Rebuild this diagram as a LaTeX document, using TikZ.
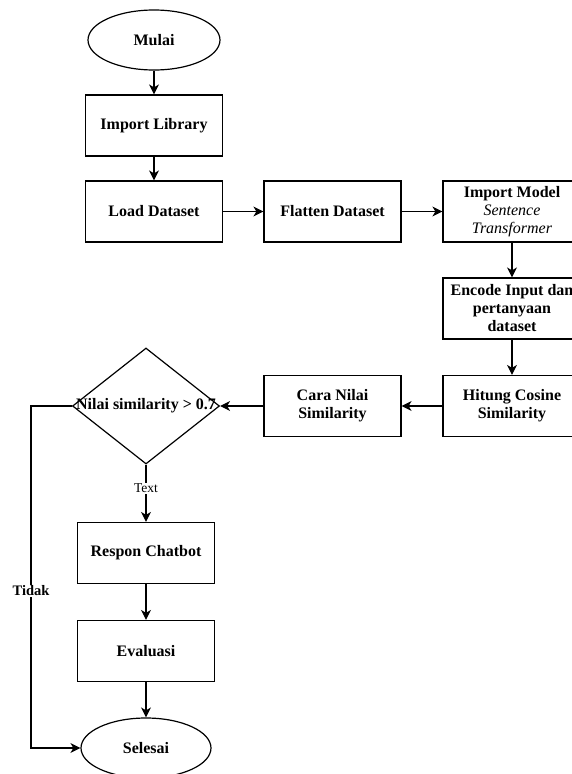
\documentclass[tikz,border=0pt]{standalone}
\usepackage{fontspec}
\setmainfont{Liberation Serif}
\usetikzlibrary{shapes.geometric,arrows.meta}
\begin{document}
\begin{tikzpicture}[x=1pt,y=-1pt]
  \tikzstyle{box} = [draw=black, line width=1.2pt, minimum width=137pt, minimum height=61pt, inner sep=0pt, align=center, font=\fontsize{16}{18}\selectfont\bfseries];
  \tikzstyle{start_end} = [box, ellipse, minimum width=132pt, minimum height=60pt];
  \tikzstyle{decision_box} = [draw=black, line width=1.2pt, diamond, minimum width=147pt, minimum height=116pt, inner sep=0pt];
  \tikzstyle{line_arrow} = [draw=black, line width=1.2pt, -{Stealth[length=10pt,width=10pt,inset=3pt]}];

  \useasboundingbox (0,0) rectangle (572,774);
  \clip (0,0) rectangle (572,774);

  \node[start_end] (mulai)      at (154, 40)    {Mulai};
  \node[box]       (import_lib) at (154, 125.5) {Import Library};
  \node[box]       (load)       at (154, 211.5) {Load Dataset};
  \node[box]       (flatten)    at (332.5, 211.5) {Flatten Dataset};
  \node[box, minimum width=138pt] (import_model) at (512, 211.5)
    {Import Model\\ {\mdseries\itshape Sentence}\\ {\mdseries\itshape Transformer}};
  \node[box, minimum width=138pt] (encode) at (512, 308.5)
    {Encode Input dan\\ pertanyaan\\ dataset};
  \node[box, minimum width=138pt] (hitung) at (512, 406) {Hitung Cosine\\ Similarity};
  \node[box]       (cara)       at (332.5, 406) {Cara Nilai\\ Similarity};

  \node[decision_box] (cek) at (146, 406) {};
  \node[font=\fontsize{16}{18}\selectfont\bfseries, inner sep=0pt] (cek_text) at (cek.center) {Nilai similarity > 0.7};

  \node[box]       (respon)     at (146, 553) {Respon Chatbot};
  \node[box]       (evaluasi)   at (146, 651) {Evaluasi};
  \node[start_end, minimum width=130pt] (selesai) at (146, 748) {Selesai};

  \coordinate (belok) at (31, 406);

  \draw[line_arrow] (mulai) -- (import_lib);
  \draw[line_arrow] (import_lib) -- (load);
  \draw[line_arrow] (load) -- (flatten);
  \draw[line_arrow] (flatten) -- (import_model);
  \draw[line_arrow] (import_model) -- (encode);
  \draw[line_arrow] (encode) -- (hitung);
  \draw[line_arrow] (hitung) -- (cara);
  \draw[line_arrow] (cara.west) -- (cek.east);
  \draw[line_arrow] (cek.south) -- node[pos=0.41, fill=white, inner sep=1pt, font=\fontsize{13.5}{15}\selectfont] {Text} (respon.north);
  \draw[line_arrow] (respon) -- (evaluasi);
  \draw[line_arrow] (evaluasi) -- (selesai);
  \draw[line_arrow] (cek.west) -- (belok) |- node[pos=0.27, fill=white, inner sep=1pt, font=\fontsize{14.5}{16}\selectfont\bfseries] {Tidak} (selesai.west);
\end{tikzpicture}
\end{document}
